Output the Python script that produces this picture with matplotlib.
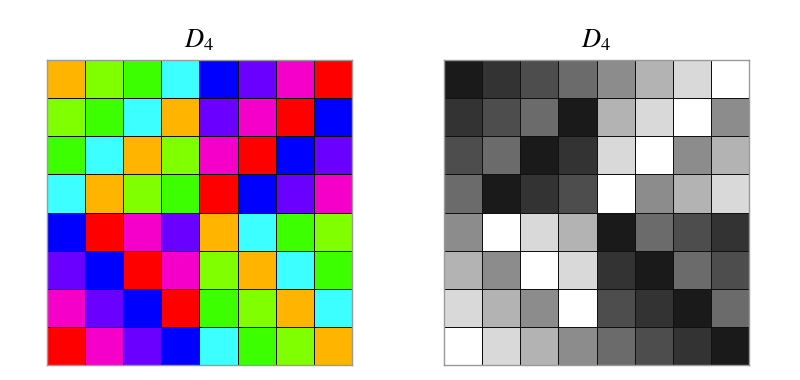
import matplotlib
matplotlib.use("Agg")
import matplotlib.pyplot as plt
import numpy as np
from matplotlib.colors import ListedColormap

plt.rcParams['mathtext.fontset'] = 'stix'

title = r"$D_4$"
table = [
    [0, 1, 2, 3, 4, 5, 6, 7],
    [1, 2, 3, 0, 5, 6, 7, 4],
    [2, 3, 0, 1, 6, 7, 4, 5],
    [3, 0, 1, 2, 7, 4, 5, 6],
    [4, 7, 6, 5, 0, 3, 2, 1],
    [5, 4, 7, 6, 1, 0, 3, 2],
    [6, 5, 4, 7, 2, 1, 0, 3],
    [7, 6, 5, 4, 3, 2, 1, 0],
]
hue_colors = ['#FFB400', '#80FF00', '#3CFF00', '#3CFFFF',
              '#0000FF', '#6A00FF', '#F500C8', '#FF0000']
gray_colors = ['#1A1A1A', '#333333', '#4D4D4D', '#6B6B6B',
               '#8C8C8C', '#B3B3B3', '#D9D9D9', '#FFFFFF']

fig = plt.figure(figsize=(8, 3.8), dpi=100)
W, H = 800, 380
boxes = [(47, 60, 305, 305), (444, 60, 305, 305)]
for (x0, y0, w, h), cols in zip(boxes, [hue_colors, gray_colors]):
    ax = fig.add_axes([x0 / W, 1 - (y0 + h) / H, w / W, h / H])
    data = np.array(table)
    ax.pcolormesh(data, cmap=ListedColormap(cols), vmin=-0.5, vmax=7.5,
                  edgecolors='#111111', linewidth=0.6)
    ax.set_xlim(0, 8)
    ax.set_ylim(8, 0)
    ax.set_xticks([])
    ax.set_yticks([])
    for s in ax.spines.values():
        s.set_color('#999999')
        s.set_linewidth(1.0)
    ax.set_title(title, fontsize=19, pad=9)

fig.savefig("out.png", dpi=100)
